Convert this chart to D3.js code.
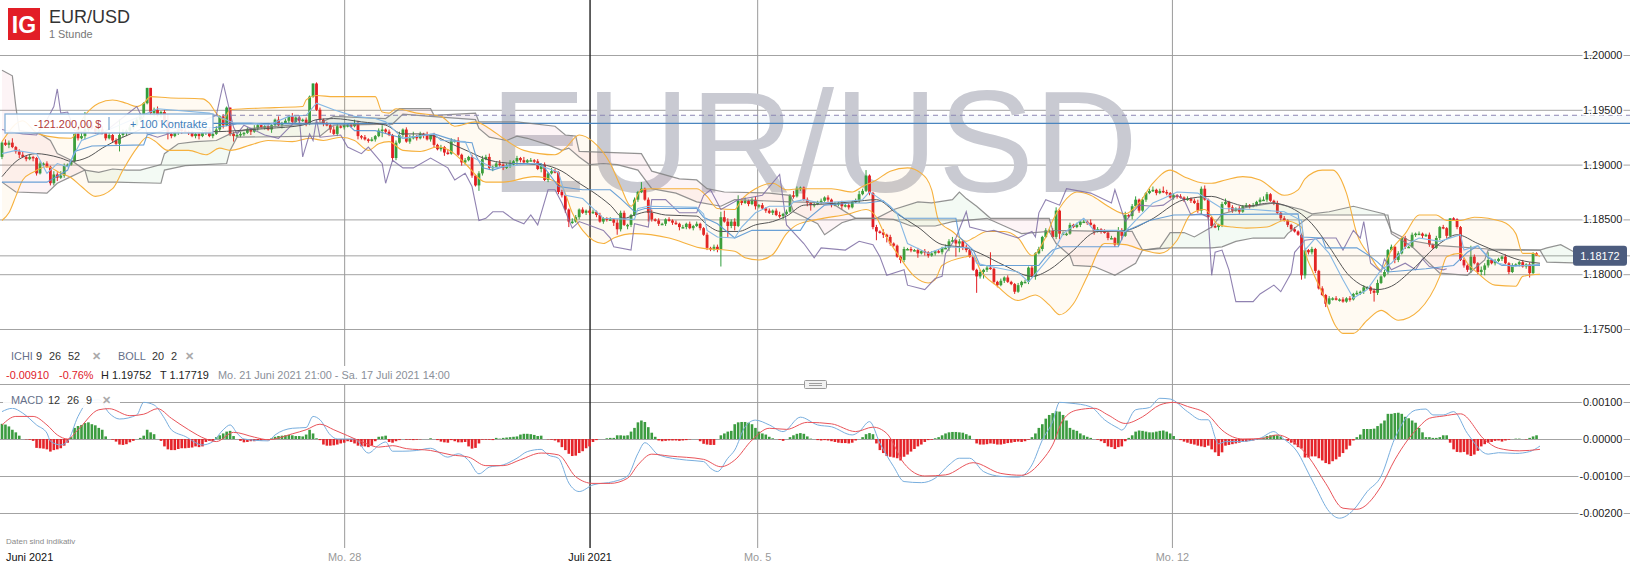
<!DOCTYPE html>
<html><head><meta charset="utf-8">
<script src="https://cdn.jsdelivr.net/npm/d3@7"></script>
<style>
html,body{margin:0;padding:0;background:#fff;overflow:hidden}
svg text{font-family:"Liberation Sans",Arial,sans-serif}
</style></head><body><div id="c"></div>
<script>
// All prices are pips above 1.17000; MACD values are in units of 0.00001.
const openFirst = 207;
const closes = [
220,218,220,216,212,209,207,205,207,206,
192,201,201,198,183,191,188,190,199,200,
203,228,224,226,232,236,233,230,232,229,
224,227,222,219,227,229,231,234,236,241,
245,256,270,247,250,245,248,240,228,226,
229,232,231,230,229,226,228,226,229,232,
226,228,232,244,236,252,228,226,227,228,
229,232,230,233,236,234,235,232,236,241,
236,238,240,244,239,243,240,241,237,262,
274,250,241,237,236,232,228,235,234,236,
236,235,237,226,225,223,222,223,226,231,
232,230,227,206,220,227,232,221,224,226,
224,228,227,223,227,218,214,216,211,210,
222,222,209,202,204,207,190,181,192,205,
207,197,198,201,200,197,199,200,203,206,
204,202,204,204,203,196,200,186,192,194,
193,175,172,159,148,148,152,159,156,158,
156,157,154,148,151,150,150,147,141,156,
145,145,154,168,175,178,168,156,150,149,
146,146,150,149,147,146,143,143,146,142,
144,146,142,136,124,123,125,123,152,148,
144,148,144,167,165,167,164,168,162,163,
160,158,156,158,154,153,155,157,172,171,
178,179,168,165,163,164,166,167,170,168,
163,164,165,162,163,161,166,167,173,176,
190,174,143,139,138,136,134,128,126,116,
113,123,123,122,122,119,121,120,117,119,
121,120,124,124,130,131,128,130,125,122,
116,104,98,102,104,106,105,93,90,94,
97,93,91,84,90,93,93,106,98,119,
123,134,140,140,134,158,137,137,137,145,
143,145,148,148,147,145,139,141,139,138,
133,133,127,140,135,154,153,162,168,158,
168,174,176,177,174,176,175,174,170,172,
171,170,168,169,167,165,158,178,168,152,
144,143,145,164,166,161,158,160,157,162,
163,162,163,166,168,168,173,167,165,156,
151,149,145,141,139,136,99,122,120,123,
103,87,81,73,78,78,77,77,75,78,
77,82,83,84,88,88,85,83,92,98,
102,122,125,113,119,133,125,125,136,137,
137,135,136,127,124,133,143,142,135,151,
150,143,113,108,104,116,110,102,104,108,
113,110,112,114,116,110,102,108,109,111,
107,109,101,119,117];
const wickUp = [
1,3,2,4,1,2,3,1,2,1,1,2,1,2,1,3,2,4,2,1,1,0,3,4,16,2,3,1,2,3,1,2,1,2,14,3,1,2,3,2,
2,1,0,0,2,3,1,2,6,2,2,1,2,3,1,2,1,2,3,1,2,1,3,1,2,1,0,2,1,2,1,2,1,3,1,2,1,3,2,1,
3,1,2,1,3,1,2,1,2,1,0,1,2,1,2,1,3,2,1,2,1,2,4,3,1,2,1,2,1,2,4,1,2,1,2,3,1,2,3,4,
1,2,1,3,1,2,1,2,1,3,2,1,3,1,2,1,2,1,2,3,2,3,1,2,3,1,2,4,1,2,1,3,1,2,1,2,1,2,1,3,
2,1,2,1,1,3,2,1,2,1,1,2,1,2,1,1,2,1,3,2,2,1,1,2,1,6,1,2,3,1,2,1,1,2,1,2,1,2,1,2,
1,2,1,1,2,1,2,2,5,6,3,2,3,5,2,3,1,2,3,1,2,1,2,1,2,3,1,2,1,4,2,1,1,2,1,2,1,2,1,2,
1,2,1,2,1,2,1,2,3,2,5,1,1,2,1,3,1,2,1,1,1,2,1,2,1,2,1,2,1,2,1,2,1,3,2,3,1,2,1,2,
1,1,1,2,1,2,14,1,1,2,1,2,1,1,2,1,2,1,2,1,2,1,2,1,2,3,1,2,1,2,1,2,1,2,1,3,1,2,1,2,
1,2,1,3,2,3,1,2,3,1,2,1,2,3,1,2,4,2,1,2,1,2,1,2,1,2,3,2,3,1,1,2,1,2,3,1,2,1,2,1,
2,1,2,1,2,3,2,1,1,2,1,2,1,1,2,1,1,2,1,2,1,1,2,1,2,1,2,1,2,1,2,1,2,1,2,1,1,2,3,1,
2,1,2,1,2,1,2,1,2,1,2,1,1,2,1,2,1,2,1,0,1,1,1,2,1,10,2,1,3,2,7,1,2,1,1,2,1,2,1,1,
2,1,2,1,1];
const wickDown = [
2,1,3,1,2,3,1,2,1,3,2,1,2,1,2,2,3,1,2,1,1,1,2,1,3,2,1,2,2,1,2,1,2,1,7,2,3,1,2,1,
1,2,1,2,3,1,2,1,5,2,1,2,3,1,2,1,2,3,1,2,1,2,1,2,3,1,2,5,1,2,2,1,3,1,2,1,2,1,3,1,
1,3,1,2,2,1,3,1,2,1,1,1,2,2,1,3,1,2,1,2,2,1,1,3,2,1,2,1,2,1,6,2,1,3,2,1,2,1,2,1,
2,1,3,1,2,2,1,2,3,1,1,2,1,3,2,1,2,1,5,2,1,2,3,1,2,2,1,2,1,3,2,1,2,1,2,1,3,1,2,1,
1,2,2,3,5,2,1,2,1,2,2,1,2,1,2,2,1,3,5,2,1,4,2,1,2,1,1,8,2,1,2,1,2,1,2,1,3,1,2,1,
2,1,2,1,2,2,2,3,16,1,10,2,4,1,2,1,2,1,3,2,1,2,1,2,1,2,3,1,1,2,1,2,1,3,5,2,1,2,1,2,
2,1,2,3,1,2,1,1,2,1,1,2,2,8,1,3,5,2,1,1,3,2,1,2,1,4,1,3,2,1,2,1,2,1,3,1,12,8,3,2,
1,1,15,2,6,2,1,2,2,1,2,1,1,2,1,2,1,2,1,3,1,2,1,2,1,2,5,1,2,1,1,1,2,1,2,1,3,1,2,1,
2,1,2,1,4,1,2,3,1,2,1,2,1,1,2,1,1,2,1,2,2,1,2,1,2,1,2,3,1,2,2,1,3,2,1,4,2,1,2,1,
1,2,1,1,2,1,2,1,2,1,2,1,2,2,1,1,4,3,2,2,2,1,1,3,1,2,1,2,1,1,2,1,1,2,2,1,3,8,2,1,
1,2,1,3,2,1,2,1,1,2,1,2,1,2,1,1,2,1,2,2,1,2,1,2,2,3,1,2,3,5,2,1,2,1,2,1,2,1,1,2,
1,2,4,1,0];
const histogram = [
41,39,34,25,18,9,0,-1,-2,-5,-24,-25,-26,-28,-34,-30,-28,-25,-18,-10,
5,30,35,38,43,45,40,37,30,25,7,0,-2,-7,-15,-16,-14,-9,-5,0,
3,9,25,18,13,0,-5,-20,-28,-30,-30,-27,-25,-25,-24,-23,-20,-22,-20,-8,
-5,-6,5,10,15,20,22,8,0,-5,-9,-8,-6,-6,-5,-4,-3,-2,2,6,
8,9,10,11,10,8,8,7,12,25,15,2,-3,-15,-18,-18,-17,-15,-12,-10,
-6,-8,-12,-18,-20,-20,-22,-18,-6,6,7,9,-8,-10,-6,-3,0,-2,-2,-3,
-2,-1,0,0,2,0,-3,-7,-9,-10,-3,-6,-9,-9,-8,-20,-26,-24,-12,-2,
-2,-2,-3,3,1,3,4,5,6,7,12,14,14,13,11,8,9,0,-1,-2,
-4,-9,-22,-30,-40,-46,-45,-38,-33,-25,-20,-8,-3,0,0,2,3,3,10,10,
9,10,20,30,45,50,46,32,17,6,-4,-6,-5,-4,-4,-4,-5,-4,-3,-1,
0,0,-6,-13,-15,-16,-16,0,10,15,20,22,40,45,46,46,44,40,30,20,
15,12,6,2,0,-2,-5,0,5,10,14,16,14,7,1,0,-3,-4,-3,-4,
-6,-8,-10,-11,-11,-12,-10,-4,0,5,13,16,13,-12,-30,-38,-46,-48,-50,-52,
-58,-48,-42,-34,-27,-20,-15,-8,-3,-2,2,5,10,15,18,19,19,18,17,13,
9,0,-12,-15,-15,-14,-12,-13,-15,-15,-13,-11,-10,-8,-7,-8,-6,-2,5,15,
30,40,55,65,70,75,74,65,50,30,25,22,15,10,6,3,0,-2,-6,-11,
-20,-22,-27,-22,-20,-6,3,10,20,23,22,20,18,18,20,22,23,20,15,8,
0,-3,-7,-10,-13,-15,-18,-20,-22,-18,-28,-36,-46,-36,-18,-16,-14,-12,-10,-8,
-7,-5,-4,-2,2,4,8,10,11,10,7,0,-5,-10,-15,-22,-26,-50,-50,-47,
-47,-52,-58,-65,-68,-60,-55,-48,-38,-28,-18,-4,5,12,27,27,27,28,35,42,
50,68,68,70,71,68,60,56,50,44,30,18,5,5,3,3,5,10,10,-10,
-28,-35,-36,-35,-42,-46,-42,-32,-20,-14,-10,-8,-5,-4,-7,-4,-2,0,1,1,
0,-1,3,7,10];

// [bar, value] readings of each overlay
const bbUpper = [[0,221],[6,240],[10,229],[13,226],[20,224],[24,245],[28,256],[32,259],[36,256],[39,253],[41,256],[43,262],[48,261],[58,260],[60,256],[62,247],[64,241],[66,250],[79,252],[87,253],[88,259],[91,263],[96,262],[108,262],[110,248],[112,247],[114,251],[120,247],[127,244],[131,235],[137,239],[141,233],[145,224],[151,213],[160,209],[163,215],[167,227],[171,221],[176,201],[179,180],[182,162],[185,177],[188,178],[201,178],[204,171],[207,160],[212,159],[214,168],[218,178],[223,183],[227,177],[231,178],[240,178],[246,175],[249,180],[253,186],[257,194],[262,197],[266,192],[269,177],[271,149],[275,139],[279,130],[281,133],[285,139],[290,139],[294,133],[298,117],[302,134],[304,149],[307,165],[311,175],[315,172],[320,162],[325,155],[329,165],[333,183],[338,195],[342,189],[348,183],[350,183],[354,186],[359,189],[364,186],[371,172],[375,177],[377,187],[382,195],[385,195],[389,174],[392,137],[396,116],[399,104],[402,122],[406,137],[410,154],[415,154],[418,149],[422,149],[426,152],[434,148],[438,137],[440,119],[443,119],[445,116]];
const bbLower = [[0,149],[2,156],[4,171],[6,186],[9,193],[13,198],[17,192],[20,188],[23,180],[27,171],[32,178],[35,195],[39,215],[42,225],[44,222],[48,213],[54,213],[59,209],[63,215],[66,213],[72,218],[77,222],[84,221],[89,224],[93,222],[98,225],[102,222],[106,213],[109,219],[112,221],[116,213],[121,212],[126,216],[130,212],[134,201],[140,184],[145,184],[154,189],[157,188],[162,180],[165,156],[168,140],[174,128],[177,133],[183,137],[193,133],[202,124],[212,121],[215,115],[219,113],[223,118],[227,137],[230,145],[236,150],[245,155],[250,159],[253,152],[255,139],[259,119],[264,98],[268,92],[270,95],[272,108],[279,116],[281,117],[283,104],[288,89],[294,76],[299,81],[303,72],[306,63],[310,73],[314,98],[319,128],[325,127],[330,122],[335,119],[340,131],[344,155],[348,159],[352,145],[356,143],[360,142],[366,143],[371,149],[376,143],[377,122],[379,104],[382,83],[386,52],[388,46],[391,46],[395,58],[399,67],[404,58],[410,67],[416,98],[418,116],[422,119],[424,110],[427,101],[432,90],[438,89],[440,98],[445,100]];
const bbMiddle = [[0,189],[5,205],[10,210],[13,209],[17,206],[20,203],[25,207],[29,215],[33,222],[40,232],[45,240],[62,230],[68,231],[77,233],[87,236],[91,241],[96,242],[104,239],[111,236],[116,228],[121,228],[125,226],[130,219],[135,212],[141,204],[148,201],[156,200],[162,194],[167,183],[171,175],[176,163],[180,151],[183,154],[187,157],[192,154],[201,153],[204,145],[208,139],[213,139],[218,145],[223,148],[227,153],[232,163],[238,164],[246,166],[253,168],[259,155],[265,143],[272,127],[279,124],[283,119],[290,108],[298,98],[303,104],[309,119],[317,139],[325,140],[332,149],[342,168],[350,171],[355,166],[360,162],[367,165],[375,157],[379,146],[384,125],[390,98],[398,86],[402,89],[408,104],[416,128],[421,136],[427,128],[433,120],[439,113],[445,110]];
const tenkan = [[0,210],[4,213],[10,210],[13,192],[16,201],[19,198],[23,222],[28,228],[45,251],[60,247],[64,242],[67,238],[72,238],[77,236],[83,244],[88,245],[91,256],[96,250],[102,244],[108,242],[111,239],[116,224],[125,228],[127,222],[134,221],[136,207],[142,197],[154,201],[161,193],[163,172],[168,169],[171,160],[174,151],[183,150],[184,160],[187,162],[201,161],[203,155],[204,140],[207,134],[212,133],[214,143],[218,156],[222,162],[228,162],[229,166],[232,168],[237,165],[246,167],[249,168],[251,175],[253,171],[257,162],[259,155],[262,128],[268,119],[273,125],[280,124],[282,110],[286,107],[294,102],[297,93],[300,104],[304,119],[307,137],[313,151],[316,140],[323,140],[325,139],[328,149],[333,165],[336,169],[340,175],[346,174],[349,168],[353,160],[362,159],[371,157],[376,149],[377,122],[380,133],[384,119],[388,95],[391,78],[395,86],[399,104],[402,110],[407,128],[410,133],[416,130],[422,136],[423,122],[427,126],[430,116],[433,110],[437,107],[445,109]];
const kijun = [[0,184],[13,184],[19,195],[21,212],[26,217],[41,218],[42,227],[49,233],[62,234],[68,237],[100,237],[102,231],[108,231],[116,224],[125,228],[132,221],[136,220],[137,209],[139,197],[142,195],[148,201],[156,201],[157,197],[161,180],[168,177],[176,177],[179,169],[183,157],[186,160],[201,160],[203,152],[207,146],[212,133],[217,140],[231,140],[233,150],[238,163],[246,165],[250,165],[255,167],[259,156],[261,151],[276,151],[277,134],[281,122],[283,108],[300,108],[302,116],[304,122],[307,125],[323,125],[325,139],[332,149],[339,154],[375,155],[376,134],[382,133],[383,124],[392,124],[396,116],[398,111],[401,102],[412,105],[420,108],[424,120],[427,126],[430,115],[434,108],[445,108]];
const senkouUpper = [[0,286],[3,281],[4,253],[5,231],[11,228],[14,222],[16,210],[20,204],[24,195],[28,193],[32,196],[36,195],[40,195],[46,200],[47,210],[51,219],[56,221],[62,222],[66,228],[72,233],[92,238],[96,244],[111,242],[115,251],[124,251],[125,245],[137,247],[138,239],[149,239],[160,235],[163,227],[166,226],[167,212],[185,210],[188,194],[196,187],[201,186],[204,178],[209,175],[222,174],[228,172],[229,166],[240,165],[247,151],[253,151],[258,159],[265,166],[269,165],[275,168],[277,175],[279,169],[282,162],[286,151],[303,151],[304,140],[320,139],[327,139],[328,133],[330,122],[335,124],[338,138],[342,138],[345,134],[350,143],[353,155],[360,161],[368,165],[376,159],[379,155],[384,157],[391,162],[400,155],[402,139],[407,131],[416,126],[430,123],[445,122],[447,124],[451,127],[455,120],[460,122]];
const senkouLower = [[0,184],[4,175],[13,174],[16,183],[20,189],[24,195],[25,184],[33,184],[46,183],[47,195],[53,199],[65,201],[66,213],[68,225],[92,226],[96,236],[113,237],[116,246],[124,244],[137,241],[138,233],[141,225],[146,222],[149,226],[152,224],[158,218],[162,213],[164,215],[167,207],[170,200],[174,201],[178,200],[184,195],[188,178],[195,174],[201,166],[208,162],[212,168],[228,166],[229,157],[236,146],[238,136],[243,147],[247,151],[253,151],[258,150],[263,144],[270,144],[275,148],[285,151],[295,137],[303,139],[305,128],[309,117],[310,108],[316,107],[322,99],[328,110],[330,122],[338,124],[350,124],[353,125],[357,130],[362,133],[371,133],[372,137],[378,152],[379,154],[401,154],[402,137],[408,125],[416,101],[424,99],[426,105],[429,113],[430,122],[445,122],[447,111],[460,110]];
const cloudPink = [[0,24],[115,258],[286,330],[401,430]];
const cloudGreen = [[24,115],[258,286],[330,401],[430,460]];
const chikou = [[0,232],[4,229],[6,228],[10,227],[13,241],[15,253],[16,269],[17,247],[19,248],[21,231],[29,228],[39,253],[41,240],[42,228],[45,225],[50,230],[62,245],[64,274],[67,234],[68,228],[70,236],[76,227],[80,224],[86,243],[87,207],[89,228],[90,222],[91,241],[92,225],[98,227],[100,216],[104,210],[106,216],[110,201],[111,183],[113,204],[116,197],[119,197],[124,206],[129,197],[131,186],[134,192],[136,180],[138,149],[140,151],[142,157],[145,157],[148,150],[151,146],[153,154],[155,145],[158,177],[160,177],[162,165],[165,142],[167,148],[174,140],[176,133],[177,125],[182,122],[183,146],[187,143],[188,168],[192,168],[196,156],[201,156],[203,172],[205,177],[208,159],[213,168],[220,172],[225,191],[227,145],[232,128],[235,115],[237,124],[244,122],[248,130],[252,127],[254,116],[256,99],[261,104],[262,90],[267,86],[270,96],[272,98],[273,119],[276,133],[279,157],[280,143],[285,139],[287,140],[294,133],[298,139],[299,134],[300,156],[302,168],[306,163],[308,178],[315,174],[321,165],[322,177],[325,148],[327,156],[329,163],[333,162],[336,163],[340,172],[342,168],[344,154],[347,155],[349,152],[350,99],[351,120],[353,122],[355,104],[357,75],[362,75],[364,82],[368,90],[370,84],[373,101],[374,120],[377,131],[382,133],[386,133],[388,122],[391,140],[393,133],[394,148],[396,110],[399,102],[400,114],[402,104],[406,110],[409,104],[411,114],[413,107],[417,104],[418,105]];
const macdLine = [[0,74],[3,83],[6,70],[10,38],[13,16],[14,-6],[17,-16],[19,-6],[22,61],[25,101],[28,106],[31,70],[34,54],[39,65],[41,99],[44,92],[47,56],[49,25],[53,7],[58,-16],[61,-7],[64,25],[66,38],[68,16],[70,0],[77,-5],[79,11],[84,29],[88,31],[90,61],[92,52],[95,11],[97,0],[102,0],[106,-38],[109,-17],[111,-8],[113,-33],[116,-33],[120,-31],[124,-25],[129,-49],[132,-40],[135,-58],[138,-94],[141,-76],[145,-70],[149,-52],[152,-34],[156,-28],[158,-43],[161,-52],[164,-119],[167,-142],[171,-124],[177,-115],[181,-100],[184,-39],[186,-10],[190,-43],[198,-57],[203,-61],[205,-79],[207,-88],[210,-52],[212,-30],[215,33],[218,51],[222,38],[226,20],[231,59],[236,38],[240,33],[246,11],[248,20],[251,47],[254,-11],[258,-75],[261,-115],[266,-118],[270,-106],[274,-70],[277,-52],[280,-52],[284,-88],[289,-101],[294,-103],[298,-70],[301,-3],[304,47],[306,99],[309,97],[315,87],[319,52],[323,29],[324,24],[328,79],[332,85],[335,110],[338,108],[343,74],[347,52],[349,52],[352,-13],[354,-7],[358,-7],[364,2],[368,20],[370,6],[375,-38],[378,-92],[380,-128],[384,-196],[387,-214],[391,-192],[395,-142],[399,-101],[403,2],[409,78],[412,81],[414,65],[417,65],[420,74],[424,15],[430,-41],[433,-37],[438,-39],[442,-34],[445,-19]];
const signalLine = [[0,38],[4,61],[9,61],[13,38],[16,11],[19,0],[22,25],[28,79],[31,82],[37,63],[41,67],[45,82],[49,56],[54,25],[59,0],[62,-7],[67,18],[73,5],[77,-2],[84,14],[88,25],[92,40],[96,25],[100,9],[105,-11],[109,-22],[113,-18],[117,-26],[124,-31],[130,-43],[135,-49],[140,-72],[145,-72],[150,-56],[156,-38],[161,-43],[166,-102],[171,-120],[176,-120],[181,-106],[184,-70],[188,-41],[193,-46],[203,-55],[208,-75],[212,-57],[217,-3],[222,29],[227,26],[233,45],[240,41],[247,20],[252,32],[256,15],[261,-66],[267,-100],[273,-97],[281,-64],[289,-93],[295,-98],[301,-57],[304,-16],[307,52],[311,78],[316,83],[320,65],[325,42],[330,60],[335,92],[339,99],[343,88],[349,65],[353,24],[359,0],[365,2],[369,11],[373,-3],[378,-48],[383,-120],[388,-187],[392,-190],[399,-128],[403,-56],[410,33],[413,56],[417,62],[422,68],[429,-2],[433,-25],[439,-32],[445,-28]];

const priceTicks = [50,100,150,200,250,300];
const macdTicks = [-200,-100,0,100];
const currentPrice = 117.2, orderPrice = 237.7, dashedPrice = 245;
const timeBars = [99,170,218.5,338.5];
const timeLabels = ['Mo. 28','Juli 2021','Mo. 5','Mo. 12'];

const W=1630,H=567,FS=10.9;
const svg=d3.select('#c').append('svg').attr('width',W).attr('height',H).style('display','block');
const x=d3.scaleLinear().domain([0,445]).range([2,1540]);
const yP=d3.scaleLinear().domain([50,300]).range([329,55]);
const yM=d3.scaleLinear().domain([-200,100]).range([513,402]);
const defs=svg.append('defs');
defs.append('clipPath').attr('id','plot').append('rect').attr('x',0).attr('y',0).attr('width',1573).attr('height',384);
const fmtP=v=>(1.17+v/1e4).toFixed(5), fmtM=v=>(v/1e5).toFixed(5);
const GRID='#a3a3a3';

// grids
const gridStyle=g=>{g.select('.domain').remove();g.selectAll('line').attr('stroke',GRID).attr('stroke-width',1);g.selectAll('text').remove();};
svg.append('g').attr('transform','translate(1630,0)').call(d3.axisLeft(yP).tickValues(priceTicks.concat([currentPrice])).tickSize(1630).tickFormat('')).call(gridStyle);
svg.append('g').attr('transform','translate(1630,0)').call(d3.axisLeft(yM).tickValues(macdTicks).tickSize(1630).tickFormat('')).call(gridStyle);
svg.append('line').attr('x1',0).attr('x2',W).attr('y1',384.5).attr('y2',384.5).attr('stroke',GRID);
const vAxis=svg.append('g').attr('transform','translate(0,0)').call(d3.axisBottom(x).tickValues(timeBars).tickSize(548).tickFormat(''));
vAxis.select('.domain').remove();
vAxis.selectAll('line').attr('stroke',(d,i)=>i==1?'#222':'#9a9a9a').attr('stroke-width',(d,i)=>i==1?1.4:1);
vAxis.selectAll('text').remove();

// watermark
svg.append('text').attr('x',814).attr('y',192).attr('text-anchor','middle').attr('font-size',144).attr('fill','#c9cad2').text('EUR/USD');

// order lines
const plot=svg.append('g').attr('clip-path','url(#plot)');
svg.append('rect').attr('x',213).attr('width',W-213).attr('y',yP(dashedPrice)).attr('height',yP(orderPrice)-yP(dashedPrice)).attr('fill','#4a86c0').attr('opacity',.05);

// candles
const opens=closes.map((c,i)=>i?closes[i-1]:openFirst);
const cg=plot.append('g');
const colr=i=>closes[i]>=opens[i]?'#2f9e3c':'#e11b22';
cg.selectAll('line.w').data(closes).join('line').attr('class','w')
 .attr('x1',(d,i)=>x(i)).attr('x2',(d,i)=>x(i))
 .attr('y1',(d,i)=>yP(Math.max(d,opens[i])+wickUp[i]))
 .attr('y2',(d,i)=>yP(Math.min(d,opens[i])-wickDown[i]))
 .attr('stroke',(d,i)=>colr(i)).attr('stroke-width',1);
cg.selectAll('rect').data(closes).join('rect')
 .attr('x',(d,i)=>x(i)-1.4).attr('width',2.8)
 .attr('y',(d,i)=>yP(Math.max(d,opens[i])))
 .attr('height',(d,i)=>Math.max(1.5,Math.abs(yP(d)-yP(opens[i]))))
 .attr('fill',(d,i)=>colr(i));

// fills
const polyOf=(a,b)=>d3.line().x(d=>x(d[0])).y(d=>yP(d[1]))(a.concat(b.slice().reverse()))+'Z';
const curve=d3.curveMonotoneX;
const areaPath=(a,b)=>{
  const up=d3.line().x(d=>x(d[0])).y(d=>yP(d[1])).curve(curve)(a);
  const lo=d3.line().x(d=>x(d[0])).y(d=>yP(d[1])).curve(curve)(b.slice().reverse());
  return up+'L'+lo.slice(1)+'Z';};
plot.append('path').attr('d',areaPath(bbUpper,bbLower)).attr('fill','#ffb84d').attr('fill-opacity',.07);
[[cloudPink,'#e8788c','pk'],[cloudGreen,'#6cc070','gr']].forEach(([segs,col,id])=>{
  segs.forEach((s,k)=>{
    const cid=id+k;
    defs.append('clipPath').attr('id',cid).append('rect').attr('x',x(s[0])).attr('y',0).attr('width',x(s[1])-x(s[0])).attr('height',384);
    plot.append('g').attr('clip-path',`url(#${cid})`).append('path').attr('d',polyOf(senkouUpper,senkouLower)).attr('fill',col).attr('fill-opacity',.08);
  });
});
// order lines on top of fills
plot.append('line').attr('x1',213).attr('x2',W).attr('y1',yP(orderPrice)).attr('y2',yP(orderPrice)).attr('stroke','#4a86c0').attr('stroke-width',1.2);
svg.append('line').attr('x1',1573).attr('x2',W).attr('y1',yP(orderPrice)).attr('y2',yP(orderPrice)).attr('stroke','#4a86c0').attr('stroke-width',1.2);
svg.append('line').attr('x1',213).attr('x2',W).attr('y1',yP(dashedPrice)).attr('y2',yP(dashedPrice)).attr('stroke','#8d88b4').attr('stroke-dasharray','5,4').attr('stroke-width',1);

// overlays
const ln=(data,col,w,smooth,op)=>plot.append('path').attr('d',d3.line().x(d=>x(d[0])).y(d=>yP(d[1])).curve(smooth?curve:d3.curveLinear)(data)).attr('fill','none').attr('stroke',col).attr('stroke-width',w).attr('stroke-opacity',op||1);
ln(senkouUpper,'#808080',1.2,false,.85);
ln(senkouLower,'#808080',1.2,false,.85);
ln(bbUpper,'#f6b13e',1.1,true);
ln(bbLower,'#f6b13e',1.1,true);
ln(chikou,'#7d6ca3',1.1,false,.85);
ln(bbMiddle,'#555',1,true);
ln(kijun,'#5a97d3',1.1,false,.9);
ln(tenkan,'#86b8e4',1.1);

// MACD histogram and lines
svg.append('g').selectAll('rect').data(histogram).join('rect')
 .attr('x',(d,i)=>x(i)-1.3).attr('width',2.6)
 .attr('y',d=>d>=0?yM(d):yM(0))
 .attr('height',d=>Math.abs(yM(d)-yM(0)))
 .attr('fill',d=>d>=0?'#3c9c40':'#e5242a');
const lm=(data,col)=>svg.append('path').attr('d',d3.line().x(d=>x(d[0])).y(d=>yM(d[1])).curve(curve)(data)).attr('fill','none').attr('stroke',col).attr('stroke-width',1);
lm(macdLine,'#78aede');
lm(signalLine,'#e9545a');

// right axes
const labelStyle=g=>{g.select('.domain').remove();g.selectAll('line').remove();
 g.selectAll('text').attr('x',0).attr('text-anchor','start').attr('font-size',FS).attr('fill','#222')
  .attr('font-family','"Liberation Sans",Arial,sans-serif')
  .style('paint-order','stroke').attr('stroke','#fff').attr('stroke-width',3);};
svg.append('g').attr('transform','translate(1583,0)').call(d3.axisRight(yP).tickValues(priceTicks.slice(0,6)).tickFormat(fmtP)).call(labelStyle);
svg.append('g').attr('transform','translate(1583,0)').call(d3.axisRight(yM).tickValues(macdTicks).tickFormat(fmtM)).call(g=>{labelStyle(g);g.selectAll('text').attr('x',d=>d<0?-3.5:0);});

// current price tag
svg.append('rect').attr('x',1573).attr('y',yP(currentPrice)-9.5).attr('width',54).attr('height',20).attr('rx',3).attr('fill','#4c5c7e');
svg.append('text').attr('x',1600).attr('y',yP(currentPrice)+4.3).attr('text-anchor','middle').attr('font-size',FS).attr('fill','#fff').text(fmtP(currentPrice));

// order box
svg.append('rect').attr('x',5).attr('y',114).attr('width',208).attr('height',19).attr('fill','#fff').attr('fill-opacity',.9).attr('stroke','#86b0d8').attr('stroke-width',1.3);
svg.append('text').attr('x',34).attr('y',128).attr('font-size',FS).attr('fill','#b23a3a').text('-121.200,00 $');
svg.append('line').attr('x1',109).attr('x2',109).attr('y1',117).attr('y2',130).attr('stroke','#5b93c9');
svg.append('text').attr('x',130).attr('y',128).attr('font-size',FS).attr('fill','#3f7fbd').text('+ 100 Kontrakte');

// header
svg.append('rect').attr('x',8).attr('y',8).attr('width',32).attr('height',32).attr('fill','#e21e26');
svg.append('text').attr('x',24).attr('y',32.5).attr('text-anchor','middle').attr('font-size',23).attr('font-weight','bold').attr('fill','#fff').text('IG');
svg.append('text').attr('x',49).attr('y',23).attr('font-size',18).attr('fill','#333').text('EUR/USD');
svg.append('text').attr('x',49).attr('y',38).attr('font-size',FS).attr('fill','#777').text('1 Stunde');

// legends
const t=(s,px,py,col,extra)=>{const e=svg.append('text').attr('x',px).attr('y',py).attr('font-size',FS).attr('fill',col).text(s);if(extra)e.attr('font-weight',extra);return e;};
t('ICHI',11,360,'#66708a');t('9',36,360,'#333');t('26',49,360,'#333');t('52',68,360,'#333');t('✕',92,360,'#aaa','bold');
t('BOLL',118,360,'#66708a');t('20',152,360,'#333');t('2',171,360,'#333');t('✕',185,360,'#aaa','bold');
svg.append('rect').attr('x',0).attr('y',366).attr('width',455).attr('height',18).attr('fill','#fff');
t('-0.00910',6,379,'#e0202a');t('-0.76%',59,379,'#e0202a');t('H 1.19752',101,379,'#222');t('T 1.17719',160,379,'#222');
t('Mo. 21 Juni 2021 21:00 - Sa. 17 Juli 2021 14:00',218,379,'#8a8f99');
svg.append('rect').attr('x',3).attr('y',394).attr('width',117).attr('height',14).attr('fill','#fff').attr('fill-opacity',.9);
t('MACD',11,404,'#66708a');t('12',48,404,'#333');t('26',67,404,'#333');t('9',86,404,'#333');t('✕',102,404,'#aaa','bold');

// pane handle
svg.append('rect').attr('x',804.5).attr('y',380.5).attr('width',22).attr('height',8).attr('rx',1).attr('fill','#f2f2f2').attr('stroke','#9a9a9a');
[383.5,385.5].forEach(v=>svg.append('line').attr('x1',809).attr('x2',822).attr('y1',v).attr('y2',v).attr('stroke','#888').attr('stroke-width',.8));

// footer + time axis
svg.append('text').attr('x',6).attr('y',544).attr('font-size',8).attr('fill','#8a8a8a').text('Daten sind indikativ');
svg.append('text').attr('x',6).attr('y',561).attr('font-size',FS).attr('fill','#111').text('Juni 2021');
const tAxis=svg.append('g').attr('transform','translate(0,548)').call(d3.axisBottom(x).tickValues(timeBars).tickSize(0).tickPadding(5).tickFormat((d,i)=>timeLabels[i]));
tAxis.select('.domain').remove();
tAxis.selectAll('text').attr('font-size',FS).attr('font-family','"Liberation Sans",Arial,sans-serif').attr('fill',(d,i)=>i==1?'#111':'#999');
</script></body></html>
